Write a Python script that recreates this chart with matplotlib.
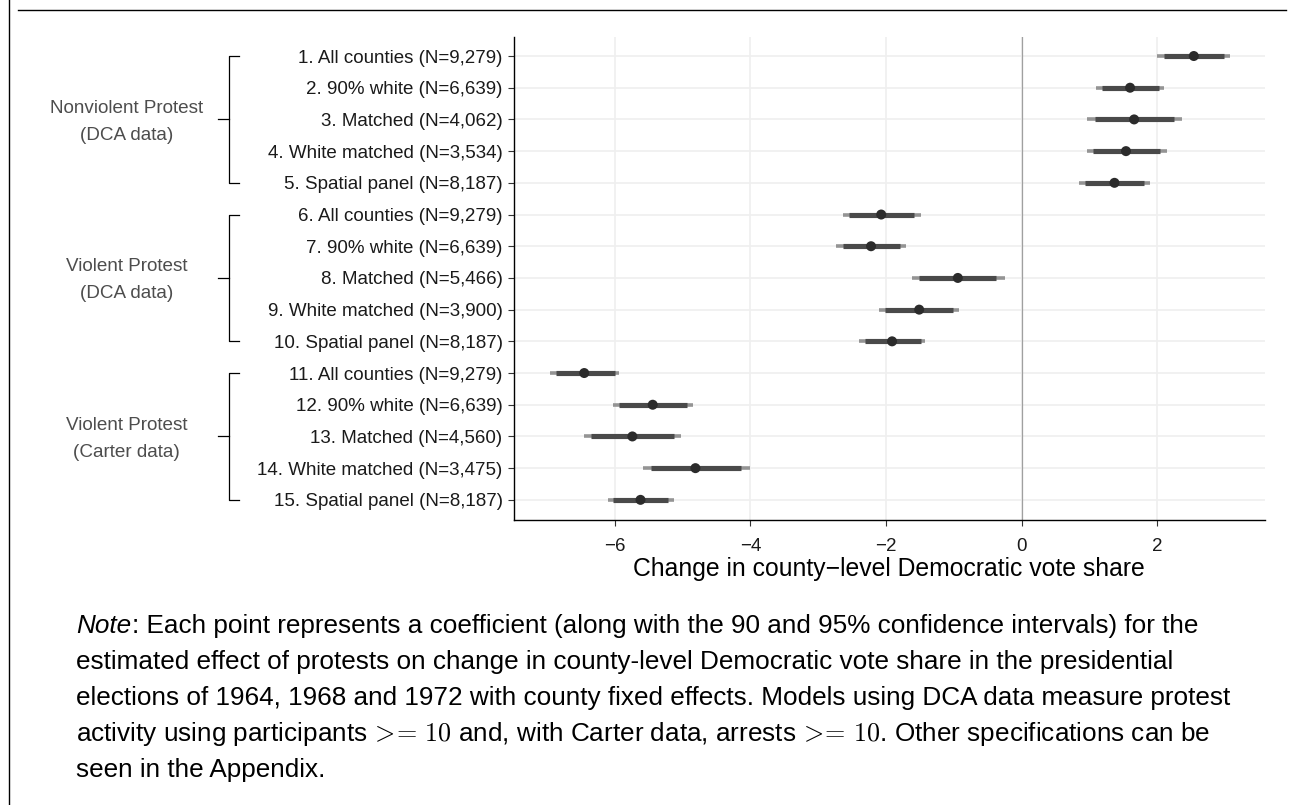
import matplotlib
matplotlib.use("Agg")
import matplotlib.pyplot as plt
import matplotlib.transforms as mtransforms
from matplotlib.lines import Line2D

plt.rcParams['font.family'] = ['Liberation Sans', 'DejaVu Sans']
plt.rcParams['mathtext.fontset'] = 'cm'

labels = [
    "1. All counties (N=9,279)", "2. 90% white (N=6,639)", "3. Matched (N=4,062)",
    "4. White matched (N=3,534)", "5. Spatial panel (N=8,187)",
    "6. All counties (N=9,279)", "7. 90% white (N=6,639)", "8. Matched (N=5,466)",
    "9. White matched (N=3,900)", "10. Spatial panel (N=8,187)",
    "11. All counties (N=9,279)", "12. 90% white (N=6,639)", "13. Matched (N=4,560)",
    "14. White matched (N=3,475)", "15. Spatial panel (N=8,187)",
]
coef = [2.54, 1.60, 1.66, 1.54, 1.37, -2.07, -2.22, -0.94, -1.51, -1.91,
        -6.45, -5.44, -5.74, -4.81, -5.62]
lo90 = [2.10, 1.19, 1.08, 1.05, 0.94, -2.54, -2.63, -1.51, -2.01, -2.31,
        -6.87, -5.93, -6.35, -5.47, -6.02]
hi90 = [2.99, 2.02, 2.25, 2.04, 1.80, -1.58, -1.80, -0.37, -1.01, -1.49,
        -6.00, -4.94, -5.13, -4.14, -5.21]
lo95 = [2.00, 1.10, 0.97, 0.96, 0.84, -2.64, -2.73, -1.61, -2.11, -2.40,
        -6.96, -6.03, -6.46, -5.59, -6.10]
hi95 = [3.08, 2.10, 2.36, 2.14, 1.89, -1.49, -1.71, -0.25, -0.92, -1.42,
        -5.93, -4.85, -5.02, -4.01, -5.13]
groups = [("Nonviolent Protest", "(DCA data)"), ("Violent Protest", "(DCA data)"),
          ("Violent Protest", "(Carter data)")]
group_rows = [(1, 5), (6, 10), (11, 15)]
xticks = [-6, -4, -2, 0, 2]
xlabel = "Change in county\u2212level Democratic vote share"
note_head = "Note"
note_lines = [
    ": Each point represents a coefficient (along with the 90 and 95% confidence intervals) for the",
    "estimated effect of protests on change in county-level Democratic vote share in the presidential",
    "elections of 1964, 1968 and 1972 with county fixed effects. Models using DCA data measure protest",
    "activity using participants $\\!>\\!\\!=\\,10$ and, with Carter data, arrests $\\!>\\!\\!=\\,10$. Other specifications can be",
    "seen in the Appendix.",
]

W, H = 1292, 805
fig = plt.figure(figsize=(W / 100, H / 100), dpi=100)
ax_l, ax_r, ax_t, ax_b = 513.7, 1265.0, 37.0, 519.5
ax = fig.add_axes([ax_l / W, 1 - ax_b / H, (ax_r - ax_l) / W, (ax_b - ax_t) / H])

ypos = list(range(1, len(labels) + 1))
ax.set_ylim(15.62, 0.4)
ax.set_xlim(-7.49, 3.59)

ax.grid(True, color='#EFEFEF', linewidth=1.2)
ax.set_axisbelow(True)
ax.axvline(0, color='#A0A0A0', linewidth=0.9, zorder=1)

ax.hlines(ypos, lo95, hi95, color='#8a8a8a', linewidth=2.6, alpha=0.9, zorder=2)
ax.hlines(ypos, lo90, hi90, color='#4a4a4a', linewidth=3.7, zorder=3)
ax.scatter(coef, ypos, s=52, color='#2b2b2b', zorder=4, edgecolors='none')

ax.set_yticks(ypos)
ax.set_yticklabels(labels, fontsize=13.5, color='#1a1a1a')
ax.set_xticks(xticks)
ax.set_xticklabels([f"\u2212{abs(t)}" if t < 0 else str(t) for t in xticks],
                   fontsize=13.5, color='#1a1a1a')
ax.tick_params(axis='y', length=4, width=0.8, pad=4, color='#333333')
ax.tick_params(axis='x', length=4, width=0.8, pad=9.5, color='#333333')
ax.set_xlabel(xlabel, fontsize=17.8)
ax.xaxis.set_label_coords(((ax_l + ax_r) / 2) / W, 1 - 576 / H, transform=fig.transFigure)
ax.xaxis.label.set_va('baseline')
for s in ['top', 'right']:
    ax.spines[s].set_visible(False)
for s in ['left', 'bottom']:
    ax.spines[s].set_linewidth(1.0)
    ax.spines[s].set_color('black')

# group brackets
trans = mtransforms.blended_transform_factory(fig.transFigure, ax.transData)
bx = 228.7 / W
bxr = 238.7 / W
bxl = 218.3 / W
row_px = (ax_b - ax_t) / (15.62 - 0.4)
for (a, b), (g1, g2) in zip(group_rows, groups):
    fig.add_artist(Line2D([bxr, bx, bx, bxr], [a, a, b, b], transform=trans,
                          color='black', linewidth=0.9))
    mid = (a + b) / 2
    fig.add_artist(Line2D([bxl, bx], [mid, mid], transform=trans,
                          color='black', linewidth=0.9))
    fs = 13.6
    off = (6.8) / row_px
    fig.text(126.5 / W, mid - 13.5 / row_px + off, g1, transform=trans, ha='center',
             va='baseline', fontsize=fs, color='#4D4D4D')
    fig.text(126.5 / W, mid + 13.5 / row_px + off, g2, transform=trans, ha='center',
             va='baseline', fontsize=fs, color='#4D4D4D')

# frame lines
fig.add_artist(Line2D([9.3 / W, 9.3 / W], [0, 1], color='black', linewidth=1.0))
fig.add_artist(Line2D([18.3 / W, 1285.6 / W], [1 - 10 / H, 1 - 10 / H], color='black', linewidth=1.0))

# note
note_fs = 18.8
x0 = 76
baselines = [633.3, 669.2, 705.0, 740.9, 776.7]
head = fig.text(x0 / W, 1 - baselines[0] / H, note_head, ha='left', va='baseline',
                fontsize=note_fs, fontstyle='italic', color='black')
renderer = fig.canvas.get_renderer()
bb = head.get_window_extent(renderer=renderer)
for i, (line, yb) in enumerate(zip(note_lines, baselines)):
    xs = (bb.x1 + 1) / W if i == 0 else x0 / W
    fig.text(xs, 1 - yb / H, line, ha='left', va='baseline', fontsize=note_fs,
             color='black')

fig.savefig("out.png", dpi=100)
